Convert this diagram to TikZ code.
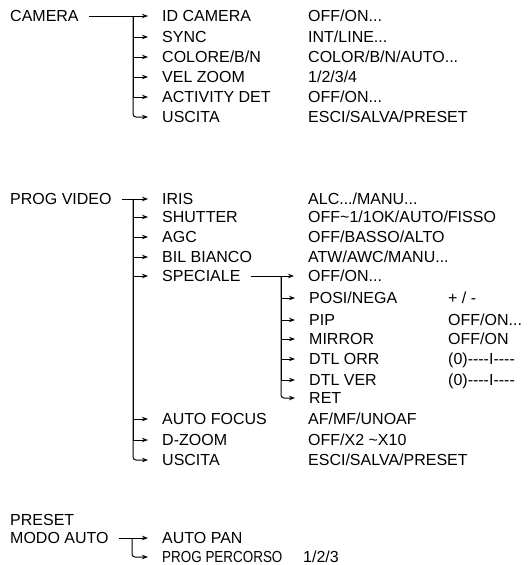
\documentclass[tikz,border=0pt]{standalone}
\usepackage{fontspec}
\setmainfont{Liberation Sans}[Ligatures=TeXOff]
\usetikzlibrary{arrows.meta}
\tikzset{
  txt/.style={anchor=west, inner sep=0pt, inner xsep=5pt, font=\fontsize{16}{18}\selectfont, text height=11.5pt, text depth=0pt},
  ramo/.style={-{Stealth[length=6pt,width=4.5pt]}, line width=1pt, shorten >=9pt},
  ultimo/.style={ramo, rounded corners=3pt}
}
\begin{document}
\begin{tikzpicture}[x=1pt,y=-1pt]
\useasboundingbox (0,0) rectangle (531,565);
% Nodos
% ---
% CAMERA
% ---
\node [txt] (camera)   at (5,16)    {CAMERA};
\node [txt] (idcam)    at (157,16)  {ID CAMERA};
\node [txt] (sync)     at (157,37)  {SYNC};
\node [txt] (colore)   at (157,57)  {COLORE/B/N};
\node [txt] (velzoom)  at (157,77)  {VEL ZOOM};
\node [txt] (activity) at (157,97)  {ACTIVITY DET};
\node [txt] (uscitaA)  at (157,117) {USCITA};
\node [txt] (vidcam)   at (303,16)  {OFF/ON...};
\node [txt] (vsync)    at (303,37)  {INT/LINE...};
\node [txt] (vcolore)  at (303,57)  {COLOR/B/N/AUTO...};
\node [txt] (vvel)     at (303,77)  {1/2/3/4};
\node [txt] (vact)     at (303,97)  {OFF/ON...};
\node [txt] (vuscA)    at (303,117) {ESCI/SALVA/PRESET};
\coordinate (tA) at (133,16);
\draw [ramo, shorten <=5pt] (camera.east) -- (idcam.west);
\draw [ramo] (tA) |- (sync.west);
\draw [ramo] (tA) |- (colore.west);
\draw [ramo] (tA) |- (velzoom.west);
\draw [ramo] (tA) |- (activity.west);
\draw [ultimo] (tA) |- (uscitaA.west);
% ---
% PROG VIDEO
% ---
\node [txt] (prog)     at (5,199)   {PROG VIDEO};
\node [txt] (iris)     at (157,199) {IRIS};
\node [txt] (shutter)  at (157,217) {SHUTTER};
\node [txt] (agc)      at (157,237) {AGC};
\node [txt] (bil)      at (157,257) {BIL BIANCO};
\node [txt] (speciale) at (157,276) {SPECIALE};
\node [txt] (focus)    at (157,419) {AUTO FOCUS};
\node [txt] (dzoom)    at (157,440) {D-ZOOM};
\node [txt] (uscitaB)  at (157,460) {USCITA};
\node [txt] (viris)    at (303,199) {ALC.../MANU...};
\node [txt] (vshut)    at (303,217) {OFF\char`~1/1OK/AUTO/FISSO};
\node [txt] (vagc)     at (303,237) {OFF/BASSO/ALTO};
\node [txt] (vbil)     at (303,257) {ATW/AWC/MANU...};
\node [txt] (vspec)    at (303,276) {OFF/ON...};
\node [txt] (vfocus)   at (303,419) {AF/MF/UNOAF};
\node [txt] (vdzoom)   at (303,440) {OFF/X2 \char`~X10};
\node [txt] (vuscB)    at (303,460) {ESCI/SALVA/PRESET};
\coordinate (tB) at (133,199);
\draw [ramo, shorten <=5pt] (prog.east) -- (iris.west);
\draw [ramo] (tB) |- (shutter.west);
\draw [ramo] (tB) |- (agc.west);
\draw [ramo] (tB) |- (bil.west);
\draw [ramo] (tB) |- (speciale.west);
\draw [ramo] (tB) |- (focus.west);
\draw [ramo] (tB) |- (dzoom.west);
\draw [ultimo] (tB) |- (uscitaB.west);
% ---
% SPECIALE
% ---
\node [txt] (posi)     at (304,298) {POSI/NEGA};
\node [txt] (pip)      at (304,320) {PIP};
\node [txt] (mirror)   at (304,339) {MIRROR};
\node [txt] (dtlorr)   at (304,359) {DTL ORR};
\node [txt] (dtlver)   at (304,380) {DTL VER};
\node [txt] (ret)      at (304,398) {RET};
\node [txt] (vposi)    at (443,298) {+ / -};
\node [txt] (vpip)     at (443,320) {OFF/ON...};
\node [txt] (vmirror)  at (443,339) {OFF/ON};
\node [txt] (vorr)     at (443,359) {(0)----I----};
\node [txt] (vver)     at (443,380) {(0)----I----};
\coordinate (tC) at (281,276);
\draw [ramo, shorten <=5pt] (speciale.east) -- (vspec.west);
\draw [ramo] (tC) |- (posi.west);
\draw [ramo] (tC) |- (pip.west);
\draw [ramo] (tC) |- (mirror.west);
\draw [ramo] (tC) |- (dtlorr.west);
\draw [ramo] (tC) |- (dtlver.west);
\draw [ultimo] (tC) |- (ret.west);
% ---
% PRESET
% ---
\node [txt] (preset)   at (5,520)   {PRESET};
\node [txt] (modo)     at (5,538)   {MODO AUTO};
\node [txt] (autopan)  at (157,538) {AUTO PAN};
\node [txt] (percorso) at (157,557) {\scalebox{0.84}[1]{PROG PERCORSO}};
\node [txt] (vperc)    at (298,557) {1/2/3};
\coordinate (tD) at (132,538);
\draw [ramo, shorten <=5pt] (modo.east) -- (autopan.west);
\draw [ultimo] (tD) |- (percorso.west);
\end{tikzpicture}
\end{document}
